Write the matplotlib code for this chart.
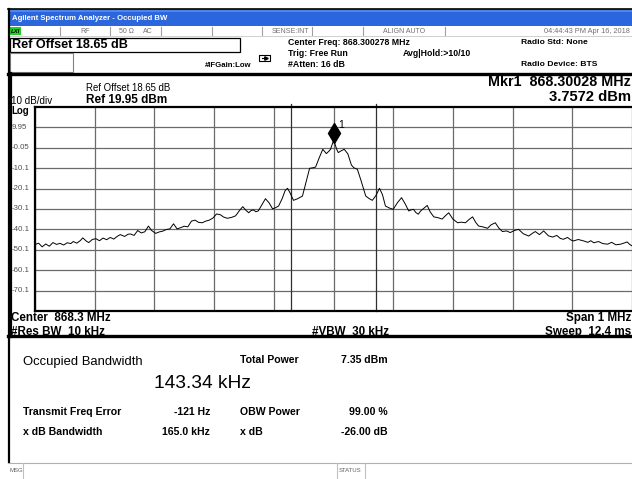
import matplotlib
matplotlib.use("Agg")
import matplotlib.pyplot as plt
import matplotlib.transforms as mtransforms
from matplotlib.patches import Rectangle

plt.rcParams["font.family"] = ["Liberation Sans", "DejaVu Sans"]

W, H = 632, 479

center_mhz = 868.3
span_khz = 1000
ref_level_dbm = 19.95
db_per_div = 10
y_tick_labels = ["9.95", "-0.05", "-10.1", "-20.1", "-30.1", "-40.1", "-50.1", "-60.1", "-70.1"]

# trace: offset from centre (kHz) and level (dBm)
freq_offset_khz = [
    -500, -494, -488, -482, -476, -470, -464, -458, -452, -446, -440, -436, -430, -424,
    -420, -414, -410, -404, -398, -392, -386, -380, -374, -368, -362, -357, -350, -344,
    -340, -334, -328, -322, -316, -310, -305, -298, -292, -286, -280, -274, -268, -262,
    -256, -250, -244, -238, -232, -226, -220, -214, -208, -202, -196, -190, -184, -178,
    -171, -164, -158, -152, -147, -142, -138, -134, -130, -126, -120, -114, -108, -102,
    -97, -92, -86, -81, -77, -73, -67, -60, -52, -46, -40, -34, -30, -24, -18, -15, -12,
    -8, -5, 0.28, 5, 8, 13, 18, 24, 30, 34, 40, 46, 54, 60, 65, 71, 77, 82, 87, 93, 100,
    107, 114, 120, 126, 130, 134, 138, 142, 146, 150, 157, 162, 168, 175, 182, 188, 193,
    200, 208, 214, 221, 227, 233, 238, 243, 250, 258, 264, 271, 277, 283, 290, 296, 303,
    310, 318, 327, 333, 338, 345, 352, 360, 367, 374, 380, 385, 392, 398, 402, 410, 419,
    426, 431, 436, 444, 451, 459, 466, 473, 481, 486, 492, 496, 500,
]
trace_dbm = [
    -47.5, -46.8, -48.6, -47.2, -48.3, -46.5, -47.4, -46.9, -47.7, -46.6, -47.0, -46.0, -46.8, -45.5,
    -44.2, -45.8, -46.5, -45.0, -44.6, -45.6, -44.3, -45.1, -44.0, -44.8, -43.4, -42.6, -43.5, -42.4,
    -42.3, -43.0, -40.6, -41.8, -41.2, -38.4, -40.5, -42.0, -41.3, -40.9, -40.1, -39.8, -37.3, -39.8,
    -39.2, -38.5, -38.8, -36.0, -35.5, -36.6, -36.8, -36.0, -35.5, -34.5, -32.5, -32.8, -34.0, -34.6,
    -34.2, -33.4, -31.0, -28.9, -30.6, -31.9, -30.8, -30.5, -31.4, -31.0, -28.0, -25.0, -27.0, -30.0,
    -29.4, -28.6, -25.0, -21.0, -19.9, -22.0, -25.8, -25.0, -23.7, -17.0, -10.1, -9.8, -9.5, -5.0, -0.8, -1.8, -2.9,
    -1.8, -0.8, 3.7572, -0.5, -2.4, -1.5, -0.8, -3.0, -8.5, -9.8, -10.6, -16.0, -23.7, -25.0, -25.8, -23.5, -19.9, -23.0, -28.6, -29.5, -30.2,
    -27.0, -24.5, -27.5, -31.0, -30.5, -30.2, -31.8, -32.6, -31.0, -30.0, -28.3, -31.5, -33.9, -34.3, -35.0, -33.2, -31.9,
    -35.0, -36.8, -36.5, -36.8, -35.2, -33.9, -36.5, -38.4, -38.8, -39.5, -37.8, -36.8, -39.4, -41.1, -40.8, -41.6, -40.6,
    -40.0, -42.2, -43.3, -42.0, -41.1, -42.6, -40.8, -43.2, -43.8, -43.0, -44.5, -44.9, -44.0, -45.3, -45.7, -45.0, -45.7,
    -46.4, -45.6, -46.6, -46.0, -47.0, -47.3, -46.4, -47.6, -47.3, -46.8, -46.2, -47.4, -48.1,
]

marker_offset_khz = 0.28
marker_dbm = 3.7572
obw_khz = 143.34
freq_error_khz = -0.121

fig = plt.figure(figsize=(W / 100, H / 100), dpi=100)
fig.patch.set_facecolor("white")

# overlay in pixel coordinates for the instrument frame and annotations
ov = fig.add_axes([0, 0, 1, 1], zorder=0)
ov.set_xlim(0, W)
ov.set_ylim(H, 0)
ov.axis("off")


def txt(x, y, s, size=6, weight="normal", color="black", ha="left", **kw):
    ov.text(x, y, s, fontsize=size, fontweight=weight, color=color, ha=ha, va="center", **kw)


# title bar
ov.add_patch(Rectangle((8, 9), W - 8, 17, facecolor="#2b66dc", edgecolor="none"))
ov.add_patch(Rectangle((8, 9), W - 8, 3, facecolor="#4f86ea", edgecolor="none"))
txt(12, 18, "Agilent Spectrum Analyzer - Occupied BW", size=5.6, weight="bold", color="white")

# status row
ov.add_patch(Rectangle((10, 27), 11, 8, facecolor="#22d022", edgecolor="none"))
txt(11, 31, "LXI", size=4.3, weight="bold", style="italic")
for xd in [60, 110, 161, 212, 262, 312, 363, 445]:
    ov.plot([xd, xd], [27, 35], color="#a0a0a0", lw=0.8)
ov.plot([10, W], [35.5, 35.5], color="#c8c8c8", lw=0.6)
txt(85, 31, "RF", size=5, color="#707070", ha="center")
txt(126, 31, "50 Ω", size=5, color="#707070", ha="center")
txt(148, 31, "AC", size=5, color="#707070", ha="center")
txt(290, 31, "SENSE:INT", size=5, color="#707070", ha="center")
txt(404, 31, "ALIGN AUTO", size=5, color="#707070", ha="center")
txt(630, 31, "04:44:43 PM Apr 16, 2018", size=5.3, color="#707070", ha="right")

# header boxes
ov.add_patch(Rectangle((10, 37.5), 230, 14, facecolor="white", edgecolor="black", lw=0.9))
txt(12, 44.5, "Ref Offset 18.65 dB", size=9.1, weight="bold")
ov.add_patch(Rectangle((10, 53), 63, 19, facecolor="white", edgecolor="#808080", lw=0.8))
txt(205, 65.5, "#IFGain:Low", size=5.6, weight="bold")
ov.add_patch(Rectangle((259, 55), 11, 6, facecolor="white", edgecolor="black", lw=0.8,
                       joinstyle="round"))
ov.plot([262, 266], [58, 58], color="black", lw=0.8)
ov.plot([266], [58], marker=">", color="black", ms=2.5)
txt(288, 42, "Center Freq: 868.300278 MHz", size=6.3, weight="bold")
txt(288, 53, "Trig: Free Run", size=6.3, weight="bold")
txt(288, 64, "#Atten: 16 dB", size=6.3, weight="bold")
txt(403, 53, "Avg|Hold:>10/10", size=6.3, weight="bold")
txt(521, 42, "Radio Std: None", size=6.1, weight="bold")
txt(521, 64, "Radio Device: BTS", size=6.1, weight="bold")

# frame lines
ov.plot([8, W], [9, 9], color="black", lw=1.2)
ov.plot([8, W], [73.5, 73.5], color="black", lw=2.4)
ov.plot([8.5, 8.5], [9, 462], color="black", lw=1.6)
ov.plot([10.5, 10.5], [73, 337], color="black", lw=1.6)
ov.plot([8, W], [336, 336], color="black", lw=2.4)

# graph pane labels
txt(86, 88, "Ref Offset 18.65 dB", size=6.9)
txt(86, 100, "Ref 19.95 dBm", size=8.5, weight="bold")
txt(11, 101, "10 dB/div", size=7.1)
txt(11, 111, "Log", size=7, weight="bold")
txt(631, 82, "Mkr1  868.30028 MHz", size=10.3, weight="bold", ha="right")
txt(631, 97, f"{marker_dbm:.4f} dBm", size=10.6, weight="bold", ha="right")
txt(11, 318, f"Center  {center_mhz:.1f} MHz", size=8.4, weight="bold")
txt(11, 332, "#Res BW  10 kHz", size=8.4, weight="bold")
txt(350, 332, "#VBW  30 kHz", size=8.4, weight="bold", ha="center")
txt(631, 318, "Span 1 MHz", size=8.4, weight="bold", ha="right")
txt(631, 332, "Sweep  12.4 ms", size=8.4, weight="bold", ha="right")

# results panel
txt(23, 362, "Occupied Bandwidth", size=9.4)
txt(251, 383, f"{obw_khz:.2f} kHz", size=13.8, ha="right")
txt(240, 360, "Total Power", size=7.6, weight="bold")
txt(388, 360, "7.35 dBm", size=7.6, weight="bold", ha="right")
txt(23, 412, "Transmit Freq Error", size=7.6, weight="bold")
txt(210, 412, f"{freq_error_khz * 1000:.0f} Hz", size=7.6, weight="bold", ha="right")
txt(240, 412, "OBW Power", size=7.6, weight="bold")
txt(388, 412, "99.00 %", size=7.6, weight="bold", ha="right")
txt(23, 432, "x dB Bandwidth", size=7.6, weight="bold")
txt(210, 432, "165.0 kHz", size=7.6, weight="bold", ha="right")
txt(240, 432, "x dB", size=7.6, weight="bold")
txt(388, 432, "-26.00 dB", size=7.6, weight="bold", ha="right")

# message bar
ov.plot([8, W], [462.5, 462.5], color="#b0b0b0", lw=0.8)
for xd in [23, 337, 365]:
    ov.plot([xd, xd], [463, 479], color="#c0c0c0", lw=0.8)
txt(10, 470, "MSG", size=4.3, color="#606060")
txt(339, 470, "STATUS", size=4.3, color="#606060")

# --- spectrum graticule ---
x0, x1, y0, y1 = 35, 632, 107, 311
ax = fig.add_axes([x0 / W, 1 - y1 / H, (x1 - x0) / W, (y1 - y0) / H], zorder=1)
ax.set_xlim(-span_khz / 2, span_khz / 2)
ax.set_ylim(ref_level_dbm - 10 * db_per_div, ref_level_dbm)
ax.set_xticks(range(-500, 501, 100))
ax.set_yticks([ref_level_dbm - db_per_div * k for k in range(1, 10)])
ax.grid(True, color="#6a6a6a", lw=0.9)
ax.tick_params(length=0, labelbottom=False, labelleft=False)
for side in ["left", "top", "bottom"]:
    ax.spines[side].set_linewidth(1.6)
ax.spines["right"].set_visible(False)

# y tick labels at the left margin
lab_tr = mtransforms.blended_transform_factory(ov.transData, ax.transData)
for k, lab in enumerate(y_tick_labels, start=1):
    ax.text(12, ref_level_dbm - db_per_div * k, lab, transform=lab_tr, fontsize=5.7,
            color="#505050", va="center", ha="left", clip_on=False)

# occupied bandwidth edges
obw_lo = freq_error_khz - obw_khz / 2
obw_hi = freq_error_khz + obw_khz / 2
for f in (obw_lo, obw_hi):
    ax.plot([f, f], [0, 1.015], color="#303030", lw=0.9,
            transform=mtransforms.blended_transform_factory(ax.transData, ax.transAxes),
            clip_on=False)

ax.plot(freq_offset_khz, trace_dbm, color="black", lw=0.7)

# marker diamond sits just above the peak
mk_tr = ax.transData + mtransforms.ScaledTranslation(0, 0.075, fig.dpi_scale_trans)
ax.plot([marker_offset_khz], [marker_dbm], marker="d", ms=10, color="black", transform=mk_tr)
mk_lab = ax.transData + mtransforms.ScaledTranslation(0.045, 0.15, fig.dpi_scale_trans)
ax.text(marker_offset_khz, marker_dbm, "1", transform=mk_lab, fontsize=7.5, va="center")

fig.savefig("out.png", dpi=100)
